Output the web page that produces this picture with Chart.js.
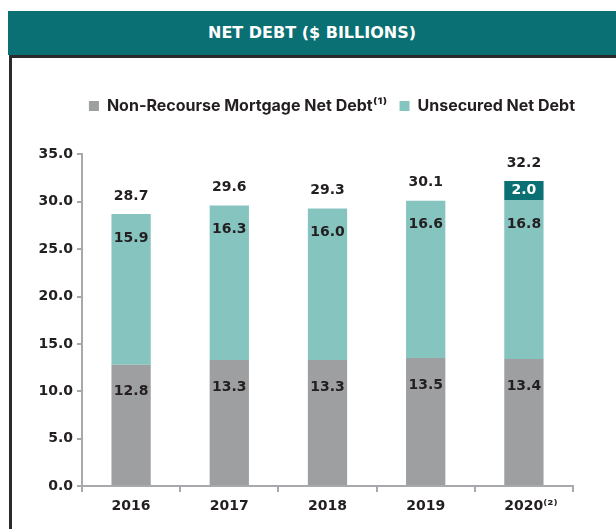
<!DOCTYPE html>
<html>
<head>
<meta charset="utf-8">
<script src="https://cdn.jsdelivr.net/npm/chart.js@4.4.1/dist/chart.umd.min.js"></script>
<style>
  html, body { margin: 0; padding: 0; background: #fff; }
  #page { position: relative; width: 616px; height: 529px; overflow: hidden; }
  #band {
    position: absolute; left: 8px; top: 11px; width: 608px; height: 44px;
    background: #0b7073; color: #fff; text-align: center;
    font: bold 16px "DejaVu Sans", sans-serif; line-height: 44px;
  }
  #frame {
    position: absolute; left: 9px; top: 55px; width: 700px; height: 600px;
    border-left: 3px solid #2b2b2b; border-top: 3px solid #2b2b2b;
  }
  #wrap { position: absolute; left: 0; top: 0; width: 616px; height: 529px; }
</style>
</head>
<body>
<div id="page">
  <div id="band">NET DEBT ($ BILLIONS)</div>
  <div id="frame"></div>
  <div id="wrap"><canvas id="myChart"></canvas></div>
</div>
<script>
// values
const years = ['2016', '2017', '2018', '2019', '\u2002\u20022020⁽²⁾'];
const mortgageDebt = [12.8, 13.3, 13.3, 13.5, 13.4];
const unsecuredDebt = [15.9, 16.3, 16.0, 16.6, 16.8];
const extraDebt = [null, null, null, null, 2.0];
const totals = [28.7, 29.6, 29.3, 30.1, 32.2];
const yTicks = [0, 5, 10, 15, 20, 25, 30, 35];

const axisGray = '#a7a9ac';
const textDark = '#231f20';
const numFont = { family: 'DejaVu Sans', weight: 'bold', size: 14 };

// draws the numbers on and above the bars
const barLabels = {
  id: 'barLabels',
  afterLayout(chart) {
    // legend sits a bit right of the plot's centre in the original
    chart.legend.left += 14;
    chart.legend.right += 14;
  },
  afterDatasetsDraw(chart) {
    const c = chart.ctx;
    const y = chart.scales.y;
    c.save();
    c.font = 'bold 14px "DejaVu Sans"';
    c.textAlign = 'center';
    c.textBaseline = 'middle';
    chart.data.datasets.forEach((ds, i) => {
      const meta = chart.getDatasetMeta(i);
      meta.data.forEach((bar, j) => {
        const v = ds.data[j];
        if (v == null) return;
        if (i == 2) {
          c.fillStyle = '#fff';
          c.fillText(v.toFixed(1), bar.x, (bar.y + bar.base) / 2);
        } else {
          c.fillStyle = textDark;
          c.fillText(v.toFixed(1), bar.x, bar.y + (i == 0 ? 27 : 24));
        }
      });
    });
    const meta0 = chart.getDatasetMeta(0);
    totals.forEach((t, j) => {
      c.fillStyle = textDark;
      c.fillText(t.toFixed(1), meta0.data[j].x, y.getPixelForValue(t) - 18);
    });
    c.restore();
  }
};

const ctx = document.getElementById('myChart');

const chart = new Chart(ctx, {
  type: 'bar',
  data: {
    labels: years,
    datasets: [{
      label: 'Non-Recourse Mortgage Net Debt⁽¹⁾',
      data: mortgageDebt,
      backgroundColor: '#9e9fa1'
    }, {
      label: 'Unsecured Net Debt',
      data: unsecuredDebt,
      backgroundColor: '#86c4c0'
    }, {
      label: 'Other',
      data: extraDebt,
      backgroundColor: '#0b7073'
    }]
  },
  options: {
    responsive: true,
    maintainAspectRatio: false,
    animation: false,
    barPercentage: 0.4,
    categoryPercentage: 1,
    layout: { padding: { top: 86, left: 10, right: 43, bottom: 0 } },
    scales: {
      x: {
        stacked: true,
        grid: { drawOnChartArea: false, tickLength: 6, color: axisGray, lineWidth: 2 },
        border: { color: axisGray, width: 2 },
        ticks: { font: numFont, color: textDark, padding: 6 },
        afterFit(scale) { scale.height = 43; }
      },
      y: {
        stacked: true,
        min: 0,
        max: 35,
        afterBuildTicks(scale) { scale.ticks = yTicks.map(v => ({ value: v })); },
        grid: { drawOnChartArea: false, tickLength: 5, color: axisGray, lineWidth: 2 },
        border: { color: axisGray, width: 2 },
        ticks: {
          font: numFont, color: textDark, padding: 4,
          callback: v => v.toFixed(1)
        },
        afterFit(scale) { scale.width = 72; }
      }
    },
    plugins: {
      tooltip: { enabled: false },
      legend: {
        align: 'end',
        labels: {
          filter: item => item.datasetIndex < 2,
          boxWidth: 10,
          boxHeight: 10,
          padding: 12,
          color: textDark,
          font: { family: 'Inter', weight: 'bold', size: 16 }
        }
      },
      subtitle: {
        display: true,
        text: '',
        weight: 500,
        padding: { top: 0, bottom: 16 }
      }
    }
  },
  plugins: [barLabels]
});
</script>
</body>
</html>
